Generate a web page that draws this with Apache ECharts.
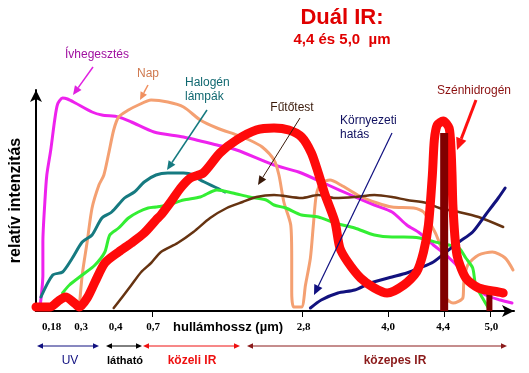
<!DOCTYPE html>
<html><head><meta charset="utf-8">
<script src="https://cdn.jsdelivr.net/npm/echarts@6/dist/echarts.min.js"></script>
<style>html,body{margin:0;padding:0;background:#fff}#c{width:529px;height:373px}</style>
</head><body><div id="c"></div>
<script>
// x: position along the (non-linear) wavelength axis, y: relative intensity (axis units)
var tickPositions = [16, 46, 81, 119, 272, 358, 414, 463];
var tickLabels = ['0,18', '0,3', '0,4', '0,7', '2,8', '4,0', '4,4', '5,0'];
var tickMarks = [118, 271, 358, 415, 462];

var ivhegesztes = [[4,3],[6,21],[7,36],[7,69],[9,109],[11,136],[15,161],[19,191],[22,207],[27,213],[32,212],[40,208],[57,199],[67,196],[84,194],[97,189],[120,179],[150,174],[184,166],[204,161],[242,146],[267,139],[297,126],[320,116],[344,106],[362,99],[377,86],[390,78],[404,66],[417,56],[434,39],[444,26],[457,16],[472,11],[484,8]];
var nap = [[44,3],[47,36],[52,69],[57,103],[64,126],[69,136],[74,158],[79,181],[84,194],[94,201],[104,206],[117,211],[134,209],[150,204],[167,191],[184,183],[204,176],[217,171],[230,164],[242,151],[247,136],[252,109],[259,86],[260,53],[260,19],[262,4],[270,4],[274,26],[279,53],[282,86],[285,116],[290,128],[299,131],[310,126],[327,116],[347,108],[362,104],[384,103],[394,99],[400,89],[407,76],[414,56],[415,36],[417,13],[424,8],[434,13],[435,29],[439,46],[450,56],[464,59],[477,53],[485,41]];
var halogen = [[5,14],[17,36],[27,39],[37,53],[47,69],[57,76],[67,93],[77,99],[90,113],[100,119],[110,129],[122,136],[134,138],[150,138],[160,136],[167,131],[184,123],[192,119]];
var zold = [[27,18],[34,26],[47,36],[60,46],[70,59],[75,76],[84,83],[94,93],[104,99],[114,103],[122,104],[134,106],[150,111],[167,114],[184,121],[200,118],[217,114],[234,111],[242,106],[254,103],[270,96],[287,94],[304,88],[324,83],[344,76],[362,74],[374,74],[390,73],[410,68],[420,66],[430,63],[437,53],[444,43],[447,26],[454,13],[460,3]];
var futotest = [[79,3],[87,13],[97,26],[107,39],[117,48],[127,59],[144,68],[160,79],[177,93],[194,103],[210,109],[224,114],[242,116],[270,113],[287,116],[304,113],[324,114],[344,116],[362,114],[377,111],[397,108],[410,103],[430,99],[450,94],[475,84]];
var kornyezeti = [[279,3],[290,11],[307,18],[324,21],[340,28],[362,34],[377,38],[390,43],[404,49],[417,59],[430,69],[444,79],[457,96],[470,113],[477,123]];
var szenhidrogen = [[0,4],[14,4],[24,11],[30,14],[39,8],[44,4],[52,13],[60,29],[70,48],[84,59],[97,68],[110,78],[122,91],[127,96],[137,109],[147,123],[157,133],[170,138],[187,158],[204,171],[224,181],[242,183],[257,181],[270,174],[280,158],[287,138],[294,116],[304,89],[309,63],[317,49],[330,33],[344,23],[357,18],[374,26],[387,39],[394,59],[399,86],[403,136],[405,171],[408,186],[414,190],[420,183],[422,161],[423,136],[424,103],[428,56],[437,33],[450,23],[470,19],[475,18]];
var filterBars = [[415,178],[461,22]];

var chart = echarts.init(document.getElementById('c'), null, {renderer:'canvas'});

function ln(name, data, color, width, z){
  return {type:'line', name:name, data:data, symbol:'none', smooth:0.25, clip:false, z:z||2,
    lineStyle:{color:color, width:width, cap:'round', join:'round'}, silent:true, animation:false};
}
var series = [
  ln('Ívhegesztés', ivhegesztes, '#ee22ee', 3),
  ln('Nap', nap, '#f4a072', 3),
  ln('Halogén lámpák', halogen, '#167a80', 3),
  ln('zöld', zold, '#33ee33', 3),
  ln('Fűtőtest', futotest, '#663311', 2.5),
  ln('Környezeti hatás', kornyezeti, '#12127e', 3),
  ln('Szénhidrogén', szenhidrogen, '#ff0a0a', 9, 3)
];
filterBars.forEach(function(b, i){
  series.push({type:'line', data:[[b[0],0],[b[0],b[1]]], symbol:'none', clip:false, z:i===0?4:2, silent:true, animation:false,
    lineStyle:{color:'#800000', width:i===0?8:6, cap:'butt'}});
});

function arrow(x1,y1,x2,y2,color,w,h,both){
  var out=[];
  function head(ax,ay,bx,by){
    var a=Math.atan2(by-ay,bx-ax), c=Math.cos(a), s=Math.sin(a), hw=h*0.45;
    var px=bx-h*c, py=by-h*s;
    out.push({type:'polygon', z:50, shape:{points:[[bx,by],[px+hw*s,py-hw*c],[px-hw*s,py+hw*c]]}, style:{fill:color}});
    return [px,py];
  }
  var e=head(x1,y1,x2,y2), s=[x1,y1];
  if(both) s=head(x2,y2,x1,y1);
  out.push({type:'line', z:49, shape:{x1:s[0],y1:s[1],x2:e[0],y2:e[1]}, style:{stroke:color,lineWidth:w}});
  return out;
}
function txt(x,y,text,color,font,align){
  return {type:'text', z:60, x:x, y:y, style:{text:text, fill:color, font:font, textAlign:align||'center', textVerticalAlign:'middle'}};
}
var F='Liberation Sans, Arial, sans-serif';
var g=[];
g.push(txt(342,18,'Duál IR:','#e00000','bold 22px '+F));
g.push(txt(342,40,'4,4 és 5,0  µm','#e00000','bold 15px '+F));
g.push(txt(97,55,'Ívhegesztés','#a010a0','12px '+F));
g.push(txt(148,74,'Nap','#d07a50','12px '+F));
g.push(txt(185,83,'Halogén','#106870','12px '+F,'left'));
g.push(txt(185,97,'lámpák','#106870','12px '+F,'left'));
g.push(txt(292,108,'Fűtőtest','#3a1a0a','12px '+F));
g.push(txt(340,121,'Környezeti','#101060','12px '+F,'left'));
g.push(txt(340,135,'hatás','#101060','12px '+F,'left'));
g.push(txt(474,91,'Szénhidrogén','#8b1010','12px '+F));
g=g.concat(arrow(93,67,73,95,'#e020e0',1.5,9));
g=g.concat(arrow(148,85,140,100,'#f09060',1.5,8));
g=g.concat(arrow(207,110,167,170,'#167a80',1.5,9));
g=g.concat(arrow(300,118,258,185,'#3a1a0a',1,9));
g=g.concat(arrow(392,133,314,295,'#101080',1.2,10));
g=g.concat(arrow(476,100,457,150,'#ff1010',3,12));
g.push(txt(173,327,'hullámhossz (µm)','#000','bold 13px '+F,'left'));
g=g.concat(arrow(37,346,99,346,'#101080',1,6,true));
g=g.concat(arrow(106,346,142,346,'#000',1,6,true));
g=g.concat(arrow(143,346,240,346,'#ee1010',1,6,true));
g=g.concat(arrow(247,346,507,346,'#8b1a1a',1,6,true));
g.push(txt(70,361,'UV','#101080','12px '+F));
g.push(txt(125,361,'látható','#000','bold 11px '+F));
g.push(txt(192,361,'közeli IR','#ee1010','bold 12px '+F));
g.push(txt(395,361,'közepes IR','#8b1a1a','bold 12px '+F));

chart.setOption({
  animation:false,
  grid:{left:28, top:90, width:486, height:221},
  xAxis:{type:'value', min:0, max:486,
    axisLine:{show:true, lineStyle:{color:'#000', width:2}, symbol:['none','arrow'], symbolSize:[9,12]},
    axisTick:{show:true, customValues:tickMarks, length:6, inside:false, lineStyle:{color:'#000', width:1}},
    axisLabel:{customValues:tickPositions, formatter:function(v){var i=tickPositions.indexOf(v);return i>=0?tickLabels[i]:'';},
      color:'#000', fontFamily:'Liberation Serif, serif', fontWeight:'bold', fontSize:11, margin:11},
    splitLine:{show:false}},
  yAxis:{type:'value', min:0, max:221, name:'relatív intenzitás', nameLocation:'middle', nameGap:12,
    nameTextStyle:{color:'#000', fontWeight:'bold', fontSize:16, fontFamily:F},
    axisLine:{show:true, lineStyle:{color:'#000', width:2}, symbol:['none','arrow'], symbolSize:[9,12]},
    axisTick:{show:false}, axisLabel:{show:false}, splitLine:{show:false}},
  series:series,
  graphic:g
});
</script></body></html>
